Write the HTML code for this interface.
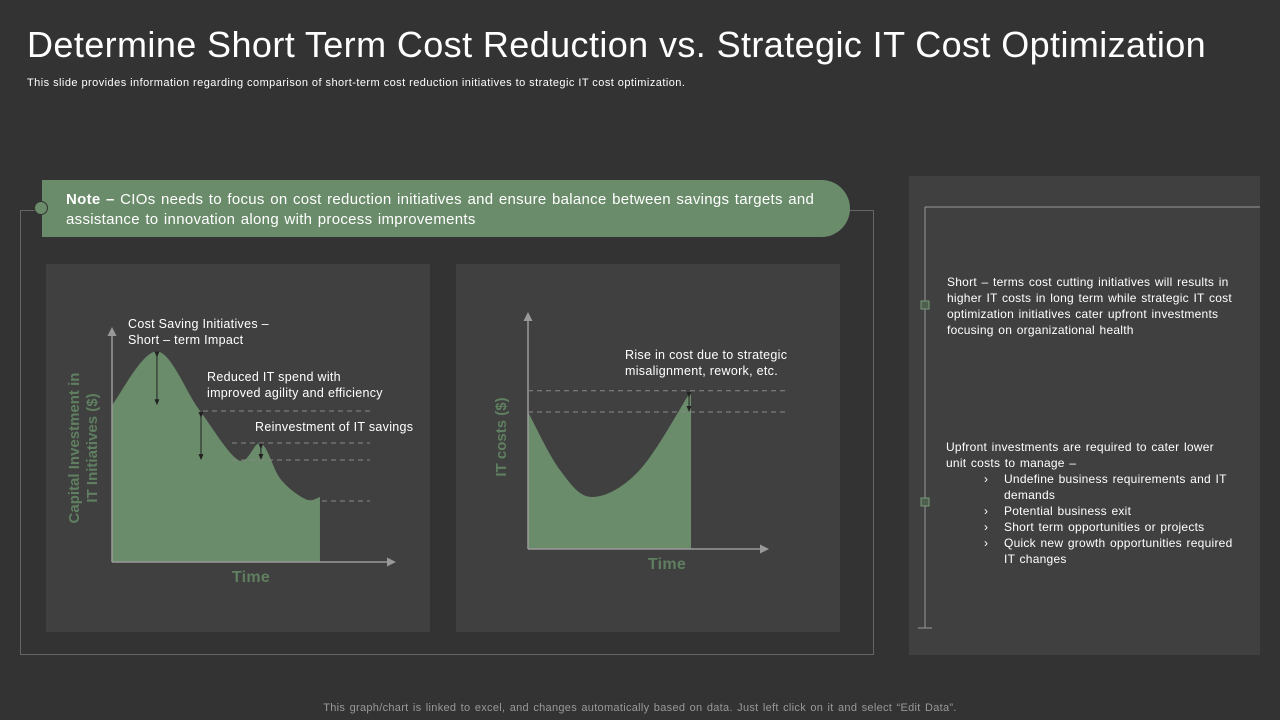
<!DOCTYPE html>
<html><head><meta charset="utf-8"><style>
body{margin:0;width:1280px;height:720px;background:#333333;font-family:"Liberation Sans",sans-serif;overflow:hidden;position:relative;color:#fff}
.abs{position:absolute}
</style></head><body>
<div class="abs" style="left:27px;top:24px;font-size:36px;color:#fff;white-space:nowrap;letter-spacing:0.4px">Determine Short Term Cost Reduction vs. Strategic IT Cost Optimization</div>
<div class="abs" style="left:27px;top:77px;font-size:11px;color:#fff;letter-spacing:0.45px;white-space:nowrap">This slide provides information regarding comparison of  short-term cost reduction initiatives to strategic IT cost optimization.</div>
<div class="abs" style="left:20px;top:210px;width:854px;height:445px;border:1px solid #666;box-sizing:border-box"></div>
<div class="abs" style="left:42px;top:180px;width:808px;height:57px;background:#6a8c6b;border-radius:0 29px 29px 0;box-sizing:border-box;padding:10px 24px;font-size:15px;line-height:20px;color:#fff;letter-spacing:0.3px;word-spacing:1px"><b>Note –</b> CIOs needs to focus on cost reduction initiatives and ensure balance between savings targets and assistance to innovation along with process improvements</div>
<div class="abs" style="left:34px;top:201px;width:12px;height:12px;border-radius:50%;background:#6a8c6b;border:1px solid #333"></div>
<div class="abs" style="left:46px;top:264px;width:384px;height:368px;background:#404040"></div>
<div class="abs" style="left:456px;top:264px;width:384px;height:368px;background:#404040"></div>
<div class="abs" style="left:909px;top:176px;width:351px;height:479px;background:#404040"></div>
<svg class="abs" style="left:0;top:0" width="1280" height="720" id="svg">
<defs><marker id="ah" markerWidth="6" markerHeight="6" refX="4" refY="3" orient="auto"><path d="M0,0L6,3L0,6z" fill="#999"/></marker>
<marker id="ak" markerWidth="6" markerHeight="6" refX="3" refY="3" orient="auto"><path d="M0,0.5L6,3L0,5.5z" fill="#222"/></marker></defs>
<line x1="925" y1="207" x2="1260" y2="207" stroke="#999"/>
<line x1="925" y1="207" x2="925" y2="628" stroke="#999"/>
<line x1="918" y1="628" x2="932" y2="628" stroke="#999"/>
<rect x="921" y="301" width="8" height="8" fill="#4e5e4e" stroke="#7a9a7a"/>
<rect x="921" y="498" width="8" height="8" fill="#4e5e4e" stroke="#7a9a7a"/>
<g id="g"></g>
</svg>
<div class="abs" style="left:947px;top:274px;width:300px;font-size:12px;line-height:16px;letter-spacing:0.25px;word-spacing:1px">Short – terms cost cutting initiatives will results in higher IT costs in long term while strategic IT cost optimization initiatives cater upfront investments focusing on organizational health</div>
<div class="abs" style="left:946px;top:439px;width:290px;font-size:12px;line-height:16px;letter-spacing:0.25px;word-spacing:1px">Upfront investments are required to cater lower unit costs to manage –
<div style="position:relative;padding-left:58px">
<div><span style="position:absolute;left:38px">›</span>Undefine business requirements and IT demands</div>
<div><span style="position:absolute;left:38px">›</span>Potential business exit</div>
<div><span style="position:absolute;left:38px">›</span>Short term opportunities or projects</div>
<div><span style="position:absolute;left:38px">›</span>Quick new growth opportunities required IT changes</div>
</div></div>
<div class="abs" style="left:0;width:1280px;top:702px;text-align:center;font-size:11px;color:#999;letter-spacing:0.3px;word-spacing:1px">This graph/chart is linked to excel,  and changes automatically based on data. Just left click on it and select “Edit Data”.</div>
<script>
const leftTimes=[0,16,31,45,53,60,69,74];
const leftValues=[70,94,68,45.5,53,37,28,29];
const rightTimes=[0,13.4,27,47,68.5];
const rightValues=[60.6,35,23,35,70];
const NS='http://www.w3.org/2000/svg';
const g=document.getElementById('g');
function mk(t,a,p){const e=document.createElementNS(NS,t);for(const k in a)e.setAttribute(k,a[k]);(p||g).appendChild(e);return e;}
function smooth(pts){let d='M'+pts[0][0]+','+pts[0][1];for(let i=0;i<pts.length-1;i++){const p0=pts[i-1]||pts[i],p1=pts[i],p2=pts[i+1],p3=pts[i+2]||p2;
d+=` C${p1[0]+(p2[0]-p0[0])/6},${p1[1]+(p2[1]-p0[1])/6} ${p2[0]-(p3[0]-p1[0])/6},${p2[1]-(p3[1]-p1[1])/6} ${p2[0]},${p2[1]}`;}return d;}
function chart(cfg,times,vals,name){
 const X=t=>cfg.x0+t*(cfg.x1-cfg.x0)/100, Y=v=>cfg.y0-v*(cfg.y0-cfg.y1)/100;
 const pts=times.map((t,i)=>[X(t),Y(vals[i])]);
 const last=pts[pts.length-1];
 const a=mk('path',{d:smooth(pts)+` L${last[0]},${cfg.y0} L${cfg.x0},${cfg.y0} Z`,fill:'#6a8c6b'});
 
 
 const ya=mk('line',{x1:cfg.x0,y1:cfg.y0,x2:cfg.x0,y2:cfg.y1-8,stroke:'#999','stroke-width':1.5,'marker-end':'url(#ah)'});
 
 
 const xa=mk('line',{x1:cfg.x0,y1:cfg.y0,x2:cfg.x1,y2:cfg.y0,stroke:'#999','stroke-width':1.5,'marker-end':'url(#ah)'});
 
 
 return {X,Y,pts};
}
const L=chart({x0:112,x1:393,y0:562,y1:338},leftTimes,leftValues,'left-chart');
const R=chart({x0:528,x1:766,y0:549,y1:323},rightTimes,rightValues,'right-chart');
function dash(x1,x2,y,n){const e=mk('line',{x1,x2,y1:y,y2:y,stroke:'#888','stroke-dasharray':'5,4'});

}
function arr(x,y1,y2,n){const e=mk('line',{x1:x,x2:x,y1:y1+3,y2:y2-3,stroke:'#222','stroke-width':1,'marker-end':'url(#ak)','marker-start':'url(#ak)'});

}
const lp=L.pts, rp=R.pts;
dash(203,370,411,'left-dash-1');dash(232,370,443,'left-dash-2');dash(232,370,460,'left-dash-3');dash(322,370,501,'left-dash-4');
arr(lp[1][0],lp[1][1],lp[0][1],'arrow-short-term');arr(201,412,lp[3][1],'arrow-reduced');arr(lp[4][0],lp[4][1],460,'arrow-reinvest');
dash(528,786,rp[4][1],'right-dash-1');dash(528,786,rp[0][1],'right-dash-2');
arr(rp[4][0]-2,rp[4][1]+1,rp[0][1],'arrow-rise');
function txt(x,y,lines,n,o){const t=mk('text',Object.assign({x,y,fill:'#fff','font-size':12.5,'letter-spacing':0.3,'font-family':'Liberation Sans, sans-serif'},o||{}));


lines.forEach((s,i)=>{const sp=mk('tspan',{x,dy:i?16:0},t);sp.textContent=s;});}
txt(128,328,['Cost Saving Initiatives –','Short – term Impact'],'label-cost-saving');
txt(207,381,['Reduced IT spend with','improved agility and efficiency'],'label-reduced-spend');
txt(255,431,['Reinvestment  of IT savings'],'label-reinvestment');
txt(625,359,['Rise in cost due to strategic','misalignment, rework, etc.'],'label-rise-in-cost');
txt(251,582,['Time'],'left-x-axis-title',{fill:'#5f7f60','font-size':16,'font-weight':'bold','text-anchor':'middle'});
txt(667,569,['Time'],'right-x-axis-title',{fill:'#5f7f60','font-size':16,'font-weight':'bold','text-anchor':'middle'});
const yt=mk('text',{x:0,y:0,fill:'#5f7f60','font-size':15,'font-weight':'bold','text-anchor':'middle',transform:'translate(79,448) rotate(-90)','font-family':'Liberation Sans, sans-serif'});


['Capital Investment in','IT Initiatives ($)'].forEach((s,i)=>{const sp=mk('tspan',{x:0,dy:i?18:0},yt);sp.textContent=s;});
const yt2=mk('text',{x:0,y:0,fill:'#5f7f60','font-size':15,'font-weight':'bold','text-anchor':'middle',transform:'translate(506,437) rotate(-90)','font-family':'Liberation Sans, sans-serif'});


yt2.textContent='IT costs ($)';
</script>
</body></html>
